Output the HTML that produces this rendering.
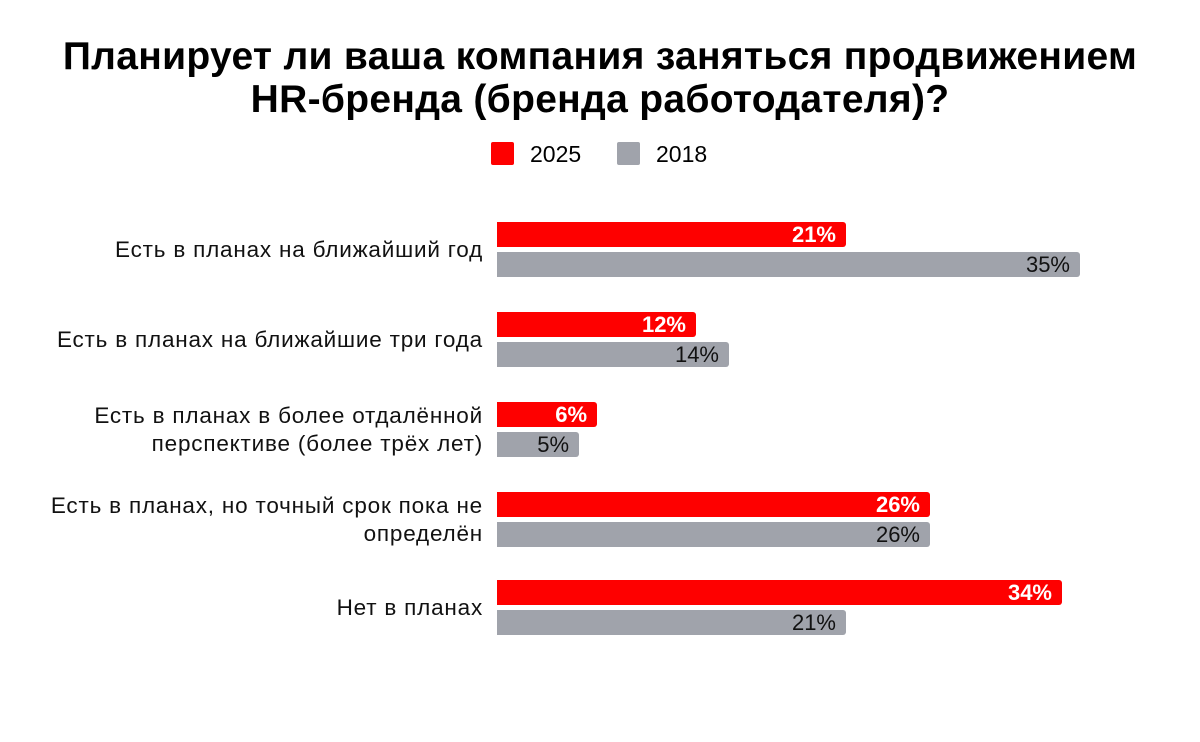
<!DOCTYPE html>
<html><head><meta charset="utf-8"><style>
body{margin:0;background:#fff;width:1200px;height:742px;overflow:hidden;font-family:"Liberation Sans",Arial,sans-serif;position:relative}
.t{position:absolute;left:0;width:1200px;text-align:center;font-weight:bold;font-size:39px;letter-spacing:0.3px;color:#000;line-height:43px;top:35px}
.lg{position:absolute;top:142px;width:23px;height:23px;border-radius:2px}
.lt{position:absolute;top:141px;font-size:23px;line-height:26px}
.bar{position:absolute;left:497px;height:25px;border-radius:0 3px 3px 0;box-sizing:border-box;text-align:right;padding-right:10px;font-size:22px;line-height:26px}
.r{background:#fe0000;color:#fff;font-weight:bold}
.g{background:#a0a3ab;color:#111}
.c{position:absolute;right:717px;text-align:right;font-size:22.5px;letter-spacing:0.8px;line-height:28px;color:#111;width:480px}
</style></head><body>
<div class="t">Планирует ли ваша компания заняться продвижением<br>HR-бренда (бренда работодателя)?</div>
<div class="lg" style="left:491px;background:#fe0000"></div><div class="lt" style="left:530px">2025</div>
<div class="lg" style="left:617px;background:#a0a3ab"></div><div class="lt" style="left:656px">2018</div>

<div class="c" style="top:236px">Есть в планах на ближайший год</div>
<div class="bar r" style="top:222px;width:349px">21%</div>
<div class="bar g" style="top:252px;width:583px">35%</div>

<div class="c" style="top:326px">Есть в планах на ближайшие три года</div>
<div class="bar r" style="top:312px;width:199px">12%</div>
<div class="bar g" style="top:342px;width:232px">14%</div>

<div class="c" style="top:402px">Есть в планах в более отдалённой<br>перспективе (более трёх лет)</div>
<div class="bar r" style="top:402px;width:100px">6%</div>
<div class="bar g" style="top:432px;width:82px">5%</div>

<div class="c" style="top:492px">Есть в планах, но точный срок пока не<br>определён</div>
<div class="bar r" style="top:492px;width:433px">26%</div>
<div class="bar g" style="top:522px;width:433px">26%</div>

<div class="c" style="top:594px">Нет в планах</div>
<div class="bar r" style="top:580px;width:565px">34%</div>
<div class="bar g" style="top:610px;width:349px">21%</div>
</body></html>
